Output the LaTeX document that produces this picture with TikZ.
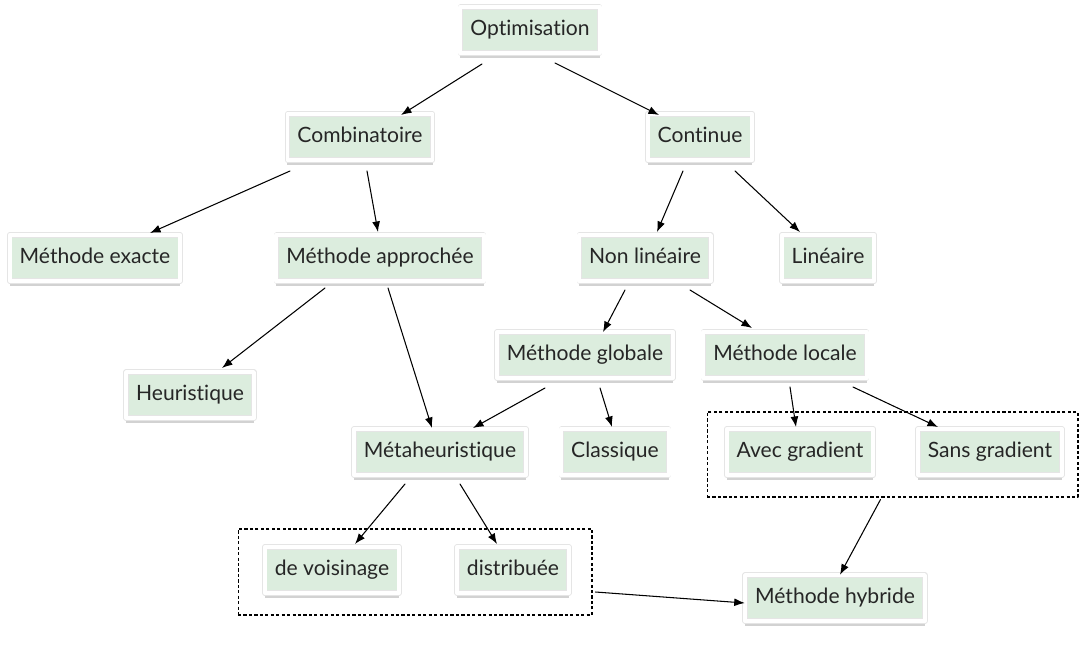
\documentclass[tikz,border=0pt]{standalone}
\usepackage{fontspec}
\setmainfont{Lato}[Ligatures=NoCommon]
\usetikzlibrary{arrows.meta,calc,shadows}
\definecolor{boxgreen}{RGB}{220,237,222}
\definecolor{boxtext}{RGB}{38,38,38}

\begin{document}
\begin{tikzpicture}[x=0.02cm,y=-0.02cm,line cap=round,line join=round,
  box/.style={fill=boxgreen,draw=black!10,line width=0.4pt,double=white,double distance=2.2pt,text=boxtext,font=\fontsize{12}{14}\selectfont,text height=9pt,text depth=2.5pt,minimum height=0.92cm,inner xsep=0.2cm,drop shadow={shadow xshift=0pt,shadow yshift=-3pt,opacity=0.25,fill=black!70}},
  arr/.style={-{Latex[length=6pt,width=4.5pt]},line width=0.6pt},
  dotbox/.style={draw,line width=0.6pt,line cap=butt,dash pattern=on 1.8pt off 1.3pt,inner sep=0pt}]
\useasboundingbox (0,0) rectangle (1081,646);
% the tree
\node[box] (opt) at (530,30) {Optimisation};
\node[box] (comb) at (360,137) {Combinatoire};
\node[box] (cont) at (700,137) {Continue};
\node[box] (exacte) at (95,258) {Méthode exacte};
\node[box] (appr) at (380,258) {Méthode approchée};
\node[box] (nonlin) at (645,258) {Non linéaire};
\node[box] (lin) at (828,258) {Linéaire};
\node[box] (heur) at (190,395) {Heuristique};
\node[box] (glob) at (585,355) {Méthode globale};
\node[box] (loc) at (785,355) {Méthode locale};
\node[box] (meta) at (440,452) {Métaheuristique};
\node[box] (class) at (615,452) {Classique};
\node[box] (avec) at (800,452) {Avec gradient};
\node[box] (sans) at (990,452) {Sans gradient};
\node[box] (voisin) at (332,570) {de voisinage};
\node[box] (distr) at (513,570) {distribuée};
\node[box] (hyb) at (835,598) {Méthode hybride};
% dotted groups
\node[dotbox,minimum width=7.08cm,minimum height=1.72cm] (lbox) at (415,572) {};
\node[dotbox,minimum width=7.42cm,minimum height=1.7cm] (rbox) at (892.5,454.5) {};
% arrows
\draw[arr] ($(opt)+(-48,34)$) -- ($(comb)+(41,-22)$);
\draw[arr] ($(opt)+(25,33)$) -- ($(cont)+(-41,-22)$);
\draw[arr] ($(comb)+(-70,34)$) -- ($(exacte)+(55,-25)$);
\draw[arr] ($(comb)+(7,34)$) -- ($(appr)+(-2,-26)$);
\draw[arr] ($(cont)+(-17,34)$) -- ($(nonlin)+(12,-26)$);
\draw[arr] ($(cont)+(35,34)$) -- ($(lin)+(-28,-26)$);
\draw[arr] ($(appr)+(-55,30)$) -- ($(heur)+(32,-27)$);
\draw[arr] ($(appr)+(8,30)$) -- ($(meta)+(-8,-24)$);
\draw[arr] ($(nonlin)+(-20,32)$) -- ($(glob)+(18,-23)$);
\draw[arr] ($(nonlin)+(45,32)$) -- ($(loc)+(-33,-27)$);
\draw[arr] ($(glob)+(-40,33)$) -- ($(meta)+(33,-24)$);
\draw[arr] ($(glob)+(15,33)$) -- ($(class)+(-3,-25)$);
\draw[arr] ($(loc)+(5,32)$) -- ($(avec)+(-4,-25)$);
\draw[arr] ($(loc)+(68,32)$) -- ($(sans)+(-52,-25)$);
\draw[arr] ($(meta)+(-35,32)$) -- ($(voisin)+(23,-26)$);
\draw[arr] ($(meta)+(20,32)$) -- ($(distr)+(-16,-26)$);
\draw[arr] ($(lbox.east)+(3,20)$) -- ($(hyb.west)+(0,5)$);
\draw[arr] ($(rbox.south)+(-12,2)$) -- ($(hyb.north)+(5,0)$);
\end{tikzpicture}
\end{document}
